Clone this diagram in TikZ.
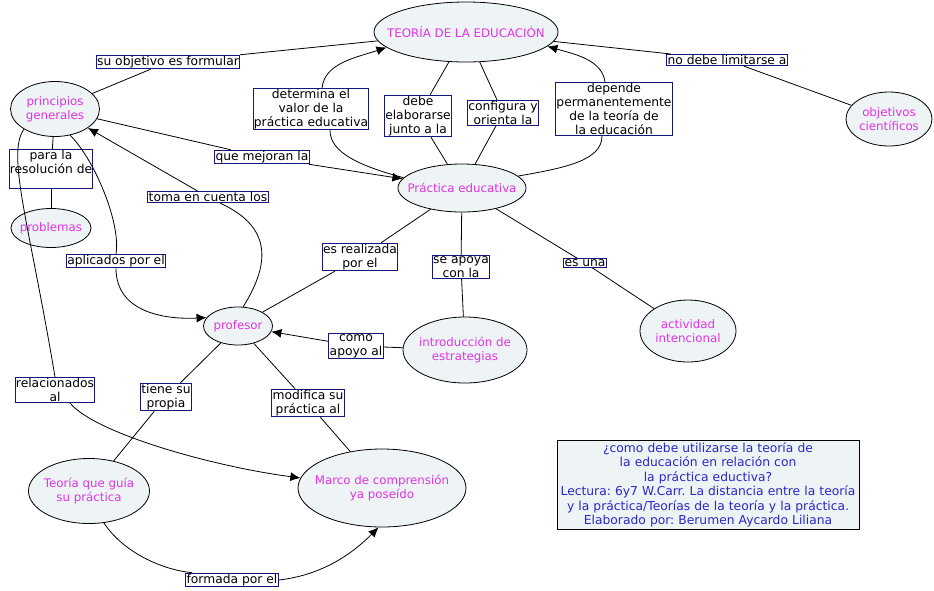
\documentclass[tikz,border=0pt]{standalone}
\usepackage{fontspec}
\setmainfont{DejaVu Sans}
\usetikzlibrary{arrows.meta,shapes.geometric}
\definecolor{conceptfill}{RGB}{238,243,246}
\definecolor{concepttext}{RGB}{226,52,226}
\definecolor{linkborder}{RGB}{22,22,128}
\definecolor{infotext}{RGB}{40,40,200}
\frenchspacing

\begin{document}
\begin{tikzpicture}[x=1pt,y=-1pt,>={Latex[length=10pt,width=9pt]},
  font=\fontsize{12.3}{14}\selectfont,line width=0.8pt,
  concept/.style={ellipse,draw,fill=conceptfill,text=concepttext,
    inner xsep=-25pt,inner ysep=-10pt,align=center,
    font=\fontsize{11.8}{14.5}\selectfont},
  linkbox/.style={draw=linkborder,line width=1pt,fill=white,
    inner sep=0.8pt,align=center}
]
  \path[use as bounding box] (0,0) rectangle (934,590);

  \node[concept,minimum width=184pt,minimum height=60pt] (teoria) at (466,32) {TEORÍA DE LA EDUCACIÓN};
  \node[concept,minimum width=89pt,minimum height=55pt] (principios) at (55,109) {principios\\generales};
  \node[concept,minimum width=80pt,minimum height=39pt] (problemas) at (51,228) {problemas};
  \node[concept,minimum width=128pt,minimum height=48pt] (practica) at (462,188) {Práctica educativa};
  \node[concept,minimum width=86pt,minimum height=54pt] (objetivos) at (889,119) {objetivos\\científicos};
  \node[concept,minimum width=69pt,minimum height=38pt] (profesor) at (238,326) {profesor};
  \node[concept,minimum width=124pt,minimum height=66pt] (estrategias) at (465,350) {introducción de\\estrategias};
  \node[concept,minimum width=96pt,minimum height=62pt] (actividad) at (688,331) {actividad\\intencional};
  \node[concept,minimum width=121pt,minimum height=65pt] (teoriaguia) at (89,491) {Teoría que guía\\su práctica};
  \node[concept,minimum width=168pt,minimum height=78pt] (marco) at (382,488) {Marco de comprensión\\ya poseído};

  \node[linkbox] (objetivo) at (168,62) {su objetivo es formular};
  \node[linkbox] (mejoran) at (262,157) {que mejoran la};
  \node[linkbox] (resolucion) at (51,169) {para la\\resolución de\\\mbox{}};
  \node[linkbox] (toma) at (208,197) {toma en cuenta los};
  \node[linkbox] (determina) at (311,109) {determina el\\valor de la\\práctica educativa};
  \node[linkbox] (elaborarse) at (418,116) {debe\\elaborarse\\junto a la};
  \node[linkbox] (configura) at (503,113) {configura y\\orienta la};
  \node[linkbox] (depende) at (614,109) {depende\\permanentemente\\de la teoría de\\la educación};
  \node[linkbox] (limitarse) at (727,60) {no debe limitarse a};
  \node[linkbox] (aplicados) at (116,261) {aplicados por el};
  \node[linkbox] (realizada) at (360,257) {es realizada\\por el};
  \node[linkbox] (apoya) at (461,267) {se apoya\\con la};
  \node[linkbox] (esuna) at (585,263) {es una};
  \node[linkbox] (apoyoal) at (356,346) {como\\apoyo al};
  \node[linkbox] (relacionados) at (55,390) {relacionados\\al};
  \node[linkbox] (tiene) at (166,397) {tiene su\\propia};
  \node[linkbox] (modifica) at (308,403) {modifica su\\práctica al};
  \node[linkbox] (formada) at (232,580) {formada por el};

  \node[draw,fill=conceptfill,text=infotext,text width=298pt,align=center,
    inner sep=2pt,font=\fontsize{12.3}{14.5}\selectfont] (info) at (708,485)
    {¿como debe utilizarse la teoría de\\la educación en relación con\\la práctica eductiva?\\Lectura: 6y7 W.Carr. La distancia entre la teoría\\y la práctica/Teorías de la teoría y la práctica.\\Elaborado por: Berumen Aycardo Liliana};

  \draw (principios) -- (objetivo);
  \draw (objetivo) -- (teoria);
  \draw (teoria) -- (limitarse);
  \draw (limitarse) -- (objetivos);
  \draw (practica.170) .. controls +(-45,-12) and +(0,22) .. ([xshift=19pt]determina.south);
  \draw[->] ([xshift=11pt]determina.north) .. controls +(3,-25) and +(-30,10) .. (teoria.191);
  \draw (practica) -- (elaborarse);
  \draw (elaborarse) -- (teoria);
  \draw (practica) -- (configura);
  \draw (configura) -- (teoria);
  \draw (practica.12) .. controls +(45,-8) and +(0,25) .. ([xshift=-12pt]depende.south);
  \draw[->] ([xshift=-9pt]depende.north) .. controls +(-3,-22) and +(28,8) .. (teoria.350);
  \draw (principios) -- (mejoran);
  \draw[->] (mejoran) -- (practica);
  \draw (profesor.75) .. controls +(25,-40) and +(55,25) .. ([xshift=12pt]toma.south);
  \draw[->] (toma) -- (principios);
  \draw (principios) -- (resolucion);
  \draw (resolucion) -- (problemas);
  \draw (principios.300) .. controls +(25,25) and +(5,-30) .. (aplicados.north);
  \draw[->] (aplicados.south) .. controls +(0,45) and +(-40,2) .. (profesor.165);
  \draw (principios.213) .. controls +(-18,25) and +(-25,-150) .. (relacionados.north);
  \draw[->] ([xshift=15pt]relacionados.south) .. controls +(25,30) and +(-90,-12) .. (marco.173);
  \draw (practica) -- (realizada);
  \draw (realizada) -- (profesor);
  \draw (practica) -- (apoya);
  \draw (apoya) -- (estrategias);
  \draw (practica) -- (esuna);
  \draw (esuna) -- (actividad);
  \draw (estrategias) -- (apoyoal);
  \draw[->] (apoyoal) -- (profesor);
  \draw (profesor) -- (tiene);
  \draw (tiene) -- (teoriaguia);
  \draw (profesor) -- (modifica);
  \draw (modifica) -- (marco);
  \draw (teoriaguia.295) .. controls +(20,30) and +(-30,-3) .. ([xshift=7pt]formada.north west);
  \draw[->] (formada.east) .. controls +(45,-5) and +(-25,25) .. (marco.265);
\end{tikzpicture}
\end{document}
